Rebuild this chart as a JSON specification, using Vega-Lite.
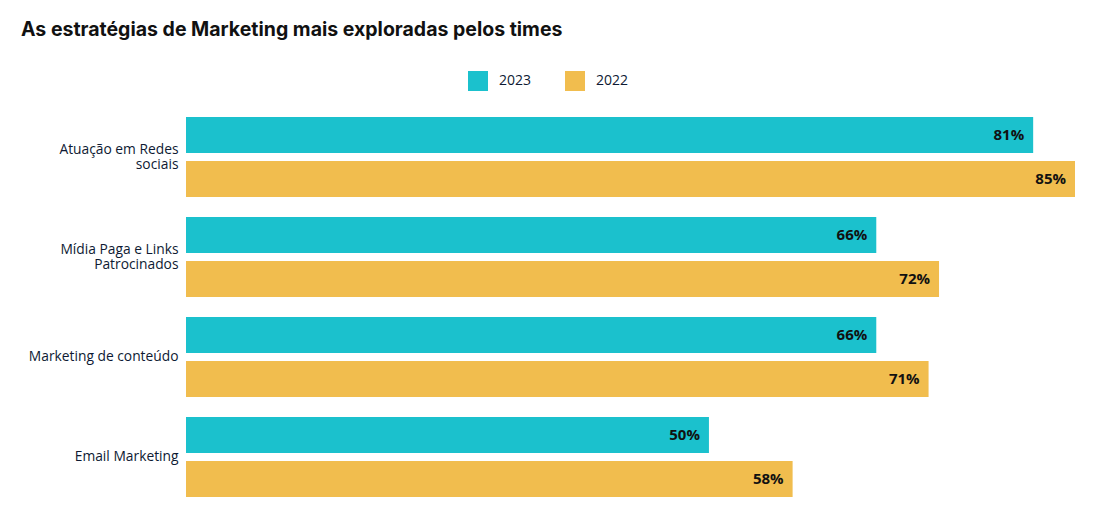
{
  "$schema": "https://vega.github.io/schema/vega-lite/v6.json",
  "width": 889,
  "height": 400,
  "autosize": {"type": "none"},
  "padding": {"left": 186, "top": 107, "right": 33, "bottom": 4},
  "background": "white",
  "view": {"stroke": null},
  "title": {
    "text": "As estratégias de Marketing mais exploradas pelos times",
    "anchor": "start",
    "frame": "group",
    "font": "Inter",
    "fontSize": 19.5,
    "fontWeight": "bold",
    "color": "#111111",
    "dx": -165,
    "dy": -27
  },
  "data": {
    "values": [
      {"estrategia": "Atuação em Redes|sociais", "ano": "2023", "valor": 81, "rotulo": "81%"},
      {"estrategia": "Atuação em Redes|sociais", "ano": "2022", "valor": 85, "rotulo": "85%"},
      {"estrategia": "Mídia Paga e Links|Patrocinados", "ano": "2023", "valor": 66, "rotulo": "66%"},
      {"estrategia": "Mídia Paga e Links|Patrocinados", "ano": "2022", "valor": 72, "rotulo": "72%"},
      {"estrategia": "Marketing de conteúdo", "ano": "2023", "valor": 66, "rotulo": "66%"},
      {"estrategia": "Marketing de conteúdo", "ano": "2022", "valor": 71, "rotulo": "71%"},
      {"estrategia": "Email Marketing", "ano": "2023", "valor": 50, "rotulo": "50%"},
      {"estrategia": "Email Marketing", "ano": "2022", "valor": 58, "rotulo": "58%"}
    ]
  },
  "encoding": {
    "y": {
      "field": "estrategia",
      "type": "nominal",
      "sort": null,
      "scale": {"paddingInner": 0.2, "paddingOuter": 0.1},
      "axis": {
        "title": null,
        "domain": false,
        "ticks": false,
        "labelPadding": 8,
        "labelFont": "Open Sans",
        "labelFontSize": 13.8,
        "labelColor": "#0e1a33",
        "labelLineHeight": 14.5,
        "labelOffset": {"condition": {"test": "indexof(datum.value, '|') >= 0", "value": -7}, "value": 0},
        "labelExpr": "split(datum.label, '|')"
      }
    },
    "yOffset": {
      "field": "ano",
      "type": "nominal",
      "sort": ["2023", "2022"],
      "scale": {"paddingInner": 0.1818, "paddingOuter": 0}
    },
    "x": {
      "field": "valor",
      "type": "quantitative",
      "scale": {"domain": [0, 85], "nice": false},
      "axis": null
    }
  },
  "layer": [
    {
      "mark": {"type": "bar"},
      "encoding": {
        "color": {
          "field": "ano",
          "type": "nominal",
          "sort": ["2023", "2022"],
          "scale": {"domain": ["2023", "2022"], "range": ["#1BC1CD", "#F1BD4E"]},
          "legend": {
            "title": null,
            "orient": "none",
            "direction": "horizontal",
            "legendX": 282,
            "legendY": -36,
            "symbolType": "square",
            "symbolSize": 400,
            "symbolStrokeWidth": 0,
            "symbolOpacity": 1,
            "labelFont": "Open Sans",
            "labelFontSize": 14,
            "labelColor": "#0e1a33",
            "labelOffset": 11,
            "columnPadding": 33
          }
        }
      }
    },
    {
      "mark": {
        "type": "text",
        "align": "right",
        "baseline": "middle",
        "dx": -9,
        "font": "Open Sans",
        "fontSize": 15,
        "fontWeight": "bold",
        "color": "#111111"
      },
      "encoding": {
        "text": {"field": "rotulo", "type": "nominal"}
      }
    }
  ]
}
